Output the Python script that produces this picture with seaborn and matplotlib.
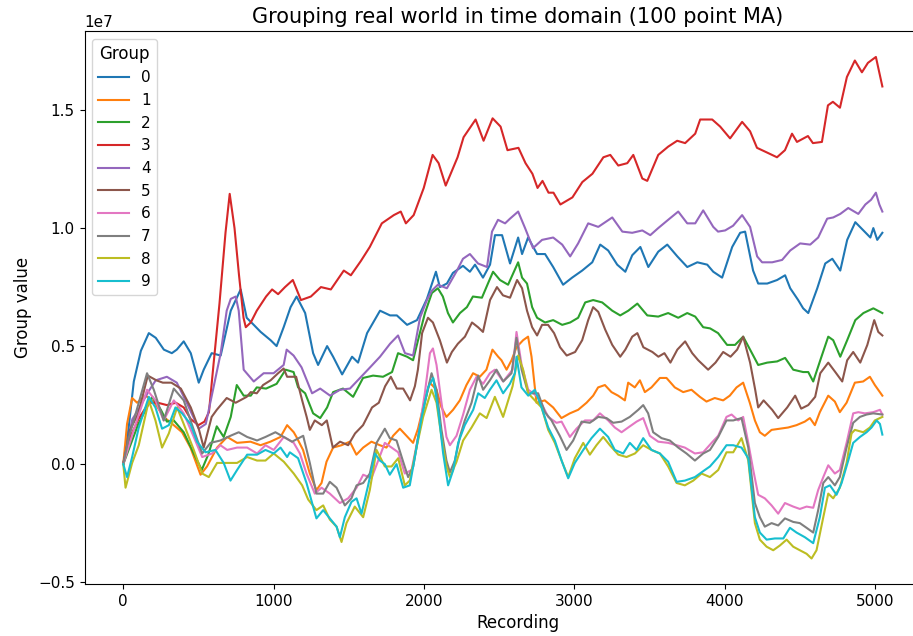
import numpy as np
import pandas as pd
import matplotlib
matplotlib.use("Agg")
import matplotlib.pyplot as plt
import seaborn as sns

SCALE = 1e7  # values below are in units of 1e7

groups = [str(i) for i in range(10)]

x0 = [0, 35, 70, 117, 170, 216, 270, 323, 356, 402, 449, 502, 535, 588, 648, 715, 781, 821, 868, 914, 980, 1020, 1067, 1113, 1153, 1210, 1263, 1296, 1356, 1396, 1456, 1522, 1562, 1622, 1708, 1775, 1820, 1888, 1954, 2020, 2080, 2106, 2153, 2193, 2260, 2306, 2340, 2393, 2440, 2473, 2520, 2573, 2627, 2653, 2693, 2753, 2806, 2860, 2926, 2986, 3053, 3120, 3173, 3226, 3286, 3340, 3386, 3440, 3493, 3559, 3619, 3686, 3752, 3819, 3885, 3925, 3984, 4051, 4104, 4137, 4190, 4224, 4284, 4350, 4403, 4437, 4490, 4523, 4557, 4617, 4670, 4717, 4770, 4816, 4870, 4924, 4970, 4990, 5016, 5050]
y0 = [0, 0.15, 0.35, 0.48, 0.555, 0.535, 0.485, 0.47, 0.485, 0.52, 0.47, 0.345, 0.40, 0.47, 0.46, 0.65, 0.74, 0.62, 0.59, 0.56, 0.525, 0.50, 0.58, 0.665, 0.71, 0.64, 0.47, 0.42, 0.50, 0.455, 0.38, 0.455, 0.43, 0.555, 0.65, 0.63, 0.63, 0.59, 0.61, 0.70, 0.815, 0.75, 0.765, 0.81, 0.84, 0.815, 0.845, 0.79, 0.845, 0.97, 0.97, 0.85, 0.96, 0.89, 0.96, 0.89, 0.89, 0.835, 0.76, 0.79, 0.82, 0.855, 0.93, 0.905, 0.845, 0.815, 0.885, 0.92, 0.835, 0.90, 0.93, 0.88, 0.835, 0.855, 0.845, 0.815, 0.79, 0.92, 0.98, 0.985, 0.82, 0.765, 0.765, 0.78, 0.80, 0.745, 0.695, 0.66, 0.64, 0.745, 0.85, 0.87, 0.82, 0.95, 1.025, 0.99, 0.96, 1.00, 0.95, 0.98]

x1 = [0, 25, 59, 92, 148, 203, 269, 336, 391, 447, 514, 557, 624, 691, 757, 846, 913, 979, 1046, 1090, 1134, 1152, 1196, 1241, 1285, 1319, 1352, 1396, 1452, 1507, 1551, 1596, 1651, 1707, 1751, 1795, 1840, 1884, 1928, 1961, 1995, 2039, 2084, 2117, 2150, 2194, 2239, 2283, 2327, 2372, 2416, 2456, 2494, 2516, 2550, 2583, 2616, 2660, 2693, 2716, 2738, 2749, 2804, 2860, 2915, 2971, 3026, 3082, 3126, 3159, 3204, 3248, 3292, 3337, 3359, 3403, 3437, 3470, 3514, 3570, 3614, 3669, 3725, 3780, 3836, 3880, 3935, 3991, 4035, 4080, 4124, 4168, 4202, 4235, 4268, 4313, 4368, 4423, 4479, 4534, 4568, 4601, 4634, 4690, 4734, 4767, 4812, 4867, 4922, 4967, 5000, 5050]
y1 = [0, 0.17, 0.28, 0.26, 0.29, 0.265, 0.20, 0.165, 0.135, 0.07, -0.045, -0.01, 0.07, 0.115, 0.09, 0.095, 0.08, 0.095, 0.115, 0.165, 0.135, 0.115, 0.06, -0.04, -0.11, -0.08, 0.01, 0.07, 0.08, 0.095, 0.04, 0.07, 0.095, 0.08, 0.07, 0.12, 0.15, 0.12, 0.09, 0.15, 0.24, 0.345, 0.315, 0.24, 0.20, 0.23, 0.27, 0.335, 0.385, 0.37, 0.40, 0.485, 0.455, 0.44, 0.40, 0.44, 0.495, 0.525, 0.54, 0.455, 0.325, 0.26, 0.27, 0.24, 0.195, 0.215, 0.23, 0.26, 0.29, 0.325, 0.335, 0.305, 0.29, 0.27, 0.345, 0.325, 0.355, 0.305, 0.325, 0.365, 0.365, 0.325, 0.305, 0.315, 0.285, 0.265, 0.28, 0.27, 0.29, 0.325, 0.345, 0.26, 0.185, 0.135, 0.12, 0.145, 0.15, 0.155, 0.165, 0.18, 0.195, 0.165, 0.22, 0.29, 0.265, 0.22, 0.26, 0.345, 0.35, 0.37, 0.335, 0.29]

x2 = [0, 100, 193, 250, 290, 336, 402, 469, 522, 568, 622, 668, 715, 755, 801, 848, 888, 950, 1020, 1080, 1133, 1163, 1210, 1263, 1310, 1356, 1396, 1462, 1529, 1595, 1662, 1728, 1788, 1828, 1888, 1928, 1961, 2007, 2053, 2093, 2126, 2160, 2193, 2240, 2286, 2326, 2386, 2426, 2460, 2506, 2560, 2627, 2653, 2686, 2720, 2753, 2806, 2860, 2920, 2973, 3026, 3073, 3126, 3186, 3253, 3306, 3360, 3420, 3486, 3559, 3625, 3692, 3752, 3805, 3858, 3904, 3957, 4017, 4070, 4124, 4170, 4224, 4284, 4350, 4403, 4457, 4523, 4557, 4590, 4637, 4690, 4723, 4770, 4816, 4870, 4924, 4990, 5050]
y2 = [0, 0.17, 0.285, 0.23, 0.18, 0.185, 0.135, 0.045, -0.025, 0.045, 0.16, 0.115, 0.20, 0.335, 0.29, 0.29, 0.325, 0.32, 0.34, 0.40, 0.39, 0.325, 0.30, 0.215, 0.195, 0.24, 0.305, 0.32, 0.285, 0.365, 0.375, 0.37, 0.39, 0.47, 0.455, 0.44, 0.525, 0.64, 0.725, 0.745, 0.71, 0.64, 0.60, 0.64, 0.665, 0.71, 0.705, 0.765, 0.815, 0.78, 0.76, 0.855, 0.79, 0.765, 0.665, 0.62, 0.60, 0.61, 0.59, 0.60, 0.62, 0.685, 0.695, 0.685, 0.65, 0.63, 0.65, 0.68, 0.63, 0.625, 0.64, 0.62, 0.64, 0.625, 0.58, 0.575, 0.555, 0.505, 0.505, 0.54, 0.485, 0.42, 0.43, 0.435, 0.45, 0.40, 0.39, 0.39, 0.35, 0.44, 0.54, 0.525, 0.455, 0.525, 0.61, 0.64, 0.66, 0.64]

x3 = [0, 50, 100, 170, 230, 290, 350, 402, 450, 500, 540, 570, 600, 640, 680, 708, 740, 770, 800, 815, 848, 888, 950, 990, 1030, 1076, 1128, 1182, 1248, 1315, 1381, 1467, 1514, 1580, 1640, 1720, 1800, 1846, 1880, 1932, 1999, 2058, 2098, 2145, 2178, 2224, 2264, 2344, 2397, 2457, 2510, 2556, 2629, 2676, 2722, 2756, 2789, 2829, 2862, 2908, 2988, 3054, 3121, 3194, 3240, 3293, 3353, 3393, 3453, 3486, 3559, 3625, 3685, 3738, 3805, 3838, 3918, 3971, 4037, 4117, 4170, 4216, 4283, 4349, 4402, 4449, 4482, 4555, 4588, 4648, 4688, 4721, 4768, 4814, 4867, 4914, 4954, 5007, 5050]
y3 = [0, 0.12, 0.19, 0.26, 0.26, 0.25, 0.26, 0.24, 0.19, 0.165, 0.18, 0.22, 0.42, 0.68, 0.98, 1.145, 1.00, 0.80, 0.62, 0.58, 0.60, 0.65, 0.71, 0.74, 0.72, 0.75, 0.78, 0.695, 0.71, 0.75, 0.74, 0.82, 0.80, 0.86, 0.92, 1.02, 1.055, 1.07, 1.02, 1.055, 1.17, 1.31, 1.275, 1.18, 1.23, 1.30, 1.385, 1.46, 1.37, 1.465, 1.43, 1.33, 1.34, 1.275, 1.23, 1.17, 1.20, 1.15, 1.15, 1.10, 1.13, 1.195, 1.23, 1.30, 1.31, 1.265, 1.275, 1.31, 1.21, 1.20, 1.31, 1.345, 1.37, 1.36, 1.40, 1.46, 1.46, 1.43, 1.38, 1.45, 1.41, 1.34, 1.32, 1.30, 1.33, 1.40, 1.365, 1.39, 1.36, 1.365, 1.52, 1.535, 1.51, 1.64, 1.71, 1.66, 1.70, 1.725, 1.60]

x4 = [0, 60, 100, 170, 216, 290, 356, 422, 502, 549, 602, 648, 688, 715, 748, 768, 801, 868, 934, 1000, 1067, 1087, 1133, 1186, 1256, 1310, 1376, 1442, 1508, 1575, 1642, 1708, 1775, 1828, 1874, 1928, 1974, 2020, 2053, 2093, 2153, 2220, 2260, 2306, 2360, 2420, 2453, 2493, 2540, 2573, 2627, 2673, 2726, 2786, 2860, 2920, 2973, 3026, 3093, 3160, 3253, 3320, 3386, 3453, 3506, 3559, 3625, 3692, 3752, 3805, 3858, 3925, 3957, 4004, 4057, 4117, 4170, 4217, 4250, 4317, 4383, 4437, 4503, 4570, 4623, 4683, 4723, 4770, 4823, 4890, 4937, 4975, 5007, 5030, 5050]
y4 = [0, 0.19, 0.23, 0.31, 0.355, 0.37, 0.345, 0.26, 0.15, 0.17, 0.33, 0.47, 0.65, 0.70, 0.71, 0.65, 0.40, 0.35, 0.385, 0.385, 0.42, 0.485, 0.46, 0.41, 0.30, 0.32, 0.29, 0.315, 0.32, 0.365, 0.41, 0.455, 0.51, 0.545, 0.47, 0.46, 0.62, 0.695, 0.735, 0.76, 0.745, 0.82, 0.87, 0.89, 0.85, 0.835, 0.985, 1.035, 1.02, 1.04, 1.07, 1.00, 0.915, 0.95, 0.96, 0.93, 0.88, 0.935, 1.02, 1.005, 1.045, 0.985, 0.98, 0.99, 0.97, 1.00, 1.035, 1.07, 1.02, 1.02, 1.075, 1.005, 0.985, 0.99, 1.01, 1.055, 1.005, 0.88, 0.855, 0.855, 0.865, 0.905, 0.935, 0.93, 0.96, 1.04, 1.045, 1.06, 1.085, 1.06, 1.10, 1.12, 1.15, 1.10, 1.07]

x5 = [0, 45, 100, 163, 220, 263, 320, 383, 449, 502, 535, 588, 622, 688, 748, 821, 848, 888, 930, 980, 1030, 1067, 1090, 1150, 1190, 1220, 1241, 1274, 1321, 1354, 1394, 1442, 1496, 1542, 1595, 1655, 1700, 1742, 1780, 1820, 1862, 1908, 1940, 1960, 1988, 2027, 2060, 2106, 2153, 2186, 2226, 2273, 2320, 2360, 2393, 2440, 2486, 2526, 2573, 2620, 2653, 2686, 2720, 2753, 2786, 2826, 2866, 2906, 2950, 3006, 3053, 3093, 3126, 3160, 3206, 3253, 3306, 3340, 3386, 3420, 3460, 3520, 3560, 3600, 3640, 3686, 3738, 3785, 3825, 3891, 3940, 3991, 4040, 4084, 4124, 4170, 4204, 4224, 4260, 4317, 4357, 4417, 4470, 4510, 4557, 4603, 4637, 4690, 4737, 4783, 4816, 4856, 4903, 4950, 4996, 5023, 5050]
y5 = [0, 0.145, 0.215, 0.375, 0.355, 0.345, 0.345, 0.32, 0.24, 0.15, 0.07, 0.20, 0.23, 0.28, 0.26, 0.285, 0.305, 0.30, 0.335, 0.355, 0.385, 0.405, 0.37, 0.37, 0.27, 0.20, 0.145, 0.185, 0.165, 0.185, 0.07, 0.095, 0.08, 0.13, 0.165, 0.24, 0.26, 0.33, 0.37, 0.32, 0.32, 0.27, 0.33, 0.40, 0.555, 0.62, 0.60, 0.525, 0.43, 0.475, 0.51, 0.54, 0.60, 0.58, 0.56, 0.695, 0.75, 0.715, 0.705, 0.78, 0.745, 0.65, 0.58, 0.545, 0.59, 0.59, 0.555, 0.495, 0.46, 0.475, 0.525, 0.61, 0.665, 0.645, 0.57, 0.505, 0.455, 0.485, 0.54, 0.555, 0.495, 0.475, 0.455, 0.47, 0.43, 0.485, 0.52, 0.47, 0.44, 0.40, 0.43, 0.475, 0.455, 0.485, 0.54, 0.43, 0.315, 0.24, 0.27, 0.23, 0.195, 0.24, 0.29, 0.235, 0.25, 0.285, 0.385, 0.43, 0.39, 0.35, 0.44, 0.475, 0.43, 0.505, 0.61, 0.56, 0.545]

x6 = [0, 70, 158, 214, 269, 336, 402, 469, 525, 591, 646, 691, 757, 824, 890, 946, 1001, 1068, 1134, 1175, 1219, 1274, 1319, 1374, 1441, 1496, 1552, 1596, 1651, 1696, 1740, 1785, 1829, 1873, 1918, 1962, 2006, 2040, 2060, 2084, 2117, 2150, 2173, 2217, 2261, 2306, 2350, 2394, 2439, 2472, 2527, 2590, 2616, 2650, 2694, 2760, 2827, 2882, 2916, 2971, 3015, 3071, 3126, 3171, 3226, 3270, 3315, 3359, 3415, 3459, 3503, 3559, 3625, 3681, 3736, 3803, 3858, 3914, 3958, 4013, 4047, 4091, 4124, 4158, 4191, 4224, 4268, 4313, 4357, 4402, 4457, 4501, 4546, 4590, 4623, 4657, 4690, 4734, 4767, 4812, 4856, 4890, 4934, 4989, 5034, 5050]
y6 = [0, 0.145, 0.315, 0.27, 0.185, 0.27, 0.215, 0.115, 0.03, 0.045, 0.08, 0.06, 0.07, 0.07, 0.045, 0.08, 0.06, 0.115, 0.09, 0.045, -0.04, -0.125, -0.10, -0.125, -0.165, -0.145, -0.10, -0.045, -0.06, 0.015, 0.09, 0.07, 0.05, -0.04, -0.025, 0.115, 0.30, 0.47, 0.49, 0.42, 0.26, 0.115, 0.08, 0.12, 0.21, 0.315, 0.37, 0.34, 0.385, 0.40, 0.35, 0.40, 0.56, 0.42, 0.315, 0.285, 0.20, 0.175, 0.18, 0.115, 0.15, 0.185, 0.185, 0.215, 0.185, 0.155, 0.135, 0.155, 0.18, 0.195, 0.12, 0.095, 0.09, 0.08, 0.07, 0.045, 0.05, 0.09, 0.12, 0.20, 0.21, 0.185, 0.20, 0.09, -0.025, -0.13, -0.145, -0.175, -0.21, -0.165, -0.18, -0.19, -0.18, -0.185, -0.11, -0.055, -0.005, -0.04, -0.025, 0.09, 0.215, 0.22, 0.215, 0.22, 0.23, 0.21]

x7 = [0, 36, 103, 158, 203, 269, 336, 402, 469, 525, 580, 646, 713, 768, 824, 890, 946, 1012, 1068, 1123, 1197, 1241, 1285, 1330, 1374, 1419, 1474, 1518, 1552, 1596, 1640, 1685, 1740, 1773, 1818, 1862, 1895, 1929, 1962, 2006, 2051, 2084, 2117, 2150, 2173, 2206, 2239, 2272, 2317, 2361, 2394, 2439, 2483, 2528, 2583, 2616, 2650, 2694, 2760, 2805, 2849, 2904, 2949, 2993, 3049, 3104, 3160, 3215, 3259, 3315, 3370, 3426, 3459, 3492, 3525, 3581, 3636, 3692, 3747, 3803, 3858, 3903, 3958, 4013, 4058, 4113, 4158, 4202, 4235, 4268, 4313, 4357, 4402, 4457, 4501, 4546, 4590, 4623, 4657, 4690, 4734, 4767, 4812, 4856, 4901, 4945, 4989, 5050]
y7 = [0, 0.11, 0.26, 0.385, 0.315, 0.185, 0.32, 0.27, 0.145, 0.045, 0.09, 0.10, 0.12, 0.135, 0.115, 0.10, 0.115, 0.135, 0.115, 0.095, 0.12, 0.005, -0.125, -0.125, -0.075, -0.10, -0.175, -0.145, -0.09, -0.08, -0.04, 0.09, 0.15, 0.11, 0.10, 0.01, -0.055, -0.01, 0.115, 0.26, 0.385, 0.315, 0.145, 0.015, -0.035, 0.015, 0.115, 0.185, 0.26, 0.375, 0.315, 0.355, 0.40, 0.35, 0.385, 0.535, 0.40, 0.30, 0.30, 0.22, 0.185, 0.12, 0.06, 0.10, 0.18, 0.175, 0.20, 0.195, 0.175, 0.18, 0.20, 0.23, 0.25, 0.215, 0.135, 0.11, 0.10, 0.07, 0.045, 0.015, 0.045, 0.06, 0.115, 0.185, 0.185, 0.195, 0.07, -0.165, -0.225, -0.265, -0.25, -0.26, -0.23, -0.245, -0.25, -0.27, -0.29, -0.195, -0.08, -0.055, -0.09, -0.055, 0.07, 0.175, 0.20, 0.21, 0.215, 0.21]

x8 = [0, 15, 59, 103, 170, 214, 258, 303, 358, 402, 469, 525, 569, 624, 691, 757, 824, 890, 946, 1001, 1068, 1134, 1190, 1230, 1285, 1330, 1374, 1419, 1452, 1485, 1540, 1596, 1640, 1685, 1740, 1785, 1829, 1873, 1906, 1951, 1995, 2051, 2084, 2117, 2150, 2173, 2217, 2261, 2317, 2372, 2417, 2472, 2527, 2590, 2627, 2660, 2694, 2738, 2783, 2827, 2871, 2916, 2960, 3004, 3060, 3104, 3148, 3193, 3237, 3293, 3348, 3404, 3459, 3514, 3570, 3625, 3681, 3736, 3792, 3847, 3903, 3958, 4013, 4058, 4113, 4158, 4202, 4235, 4280, 4324, 4368, 4413, 4457, 4501, 4546, 4579, 4612, 4657, 4690, 4723, 4767, 4812, 4845, 4867, 4923, 4967, 5000, 5050]
y8 = [0, -0.10, 0.005, 0.08, 0.27, 0.185, 0.07, 0.13, 0.24, 0.17, 0.06, -0.04, -0.055, 0.005, 0.005, 0.005, 0.03, 0.015, 0.015, 0.045, 0.01, -0.04, -0.09, -0.15, -0.195, -0.175, -0.235, -0.265, -0.33, -0.25, -0.18, -0.225, -0.11, 0.06, -0.01, -0.01, 0.025, -0.09, -0.07, 0.07, 0.20, 0.315, 0.26, 0.115, -0.01, -0.055, 0.01, 0.10, 0.155, 0.215, 0.195, 0.285, 0.20, 0.33, 0.46, 0.40, 0.30, 0.27, 0.24, 0.145, 0.09, 0.015, -0.055, 0.025, 0.09, 0.04, 0.08, 0.115, 0.08, 0.04, 0.03, 0.045, 0.08, 0.06, 0.045, -0.01, -0.08, -0.09, -0.07, -0.04, -0.055, -0.025, 0.05, 0.05, 0.11, 0.015, -0.25, -0.32, -0.35, -0.365, -0.345, -0.32, -0.35, -0.365, -0.38, -0.40, -0.365, -0.225, -0.125, -0.145, -0.10, 0.005, 0.13, 0.145, 0.135, 0.155, 0.185, 0.20]

x9 = [0, 25, 59, 103, 170, 214, 258, 303, 347, 391, 447, 491, 547, 613, 668, 713, 757, 824, 890, 946, 1001, 1046, 1090, 1108, 1163, 1219, 1285, 1330, 1374, 1419, 1441, 1474, 1518, 1552, 1585, 1629, 1674, 1707, 1740, 1773, 1818, 1862, 1906, 1940, 1984, 2028, 2062, 2095, 2128, 2161, 2195, 2228, 2272, 2328, 2361, 2405, 2439, 2483, 2527, 2572, 2605, 2616, 2649, 2694, 2738, 2783, 2827, 2871, 2916, 2960, 3004, 3060, 3115, 3171, 3226, 3270, 3326, 3370, 3415, 3459, 3514, 3570, 3625, 3681, 3736, 3803, 3869, 3903, 3958, 4013, 4058, 4113, 4158, 4202, 4235, 4280, 4335, 4391, 4435, 4479, 4535, 4590, 4634, 4668, 4701, 4745, 4779, 4823, 4856, 4901, 4945, 4978, 5012, 5034, 5050]
y9 = [0, -0.055, 0.03, 0.155, 0.285, 0.24, 0.15, 0.165, 0.24, 0.215, 0.17, 0.095, 0.05, 0.06, 0.005, -0.07, -0.025, 0.04, 0.04, 0.06, 0.045, 0.07, 0.03, 0.05, 0.025, -0.08, -0.23, -0.195, -0.23, -0.265, -0.31, -0.225, -0.16, -0.145, -0.21, -0.09, 0.045, 0.015, 0.0, -0.045, 0.0, -0.10, -0.09, 0.03, 0.195, 0.325, 0.365, 0.23, 0.045, -0.09, -0.025, 0.09, 0.165, 0.23, 0.30, 0.28, 0.315, 0.355, 0.30, 0.34, 0.385, 0.455, 0.325, 0.29, 0.315, 0.24, 0.155, 0.10, 0.015, -0.06, 0.005, 0.06, 0.11, 0.15, 0.115, 0.06, 0.045, 0.09, 0.06, 0.11, 0.06, 0.045, 0.01, -0.075, -0.07, -0.055, -0.025, -0.01, 0.03, 0.08, 0.08, 0.07, 0.025, -0.225, -0.29, -0.32, -0.315, -0.315, -0.27, -0.29, -0.31, -0.335, -0.225, -0.10, -0.09, -0.13, -0.08, 0.015, 0.09, 0.115, 0.135, 0.155, 0.185, 0.17, 0.125]

series_x = [x0, x1, x2, x3, x4, x5, x6, x7, x8, x9]
series_y = [y0, y1, y2, y3, y4, y5, y6, y7, y8, y9]

frames = []
for g, xs, ys in zip(groups, series_x, series_y):
    frames.append(pd.DataFrame({
        "Recording": np.asarray(xs, dtype=float),
        "Group value": np.asarray(ys, dtype=float) * SCALE,
        "Group": g,
    }))
df = pd.concat(frames, ignore_index=True)

sns.set_context("notebook", rc={
    "xtick.major.size": 3.5, "ytick.major.size": 3.5,
    "xtick.major.width": 0.8, "ytick.major.width": 0.8,
    "axes.linewidth": 0.8,
})
plt.rcParams["font.family"] = ["DejaVu Sans"]

fig = plt.figure(figsize=(9.13, 6.36), dpi=100)
# axes box runs past the right edge of the canvas
ax = fig.add_axes([84.5 / 913, 52 / 636, 867 / 913, 553 / 636])

sns.lineplot(data=df, x="Recording", y="Group value", hue="Group",
             hue_order=groups, palette="tab10", estimator=None, sort=False,
             linewidth=1.5, ax=ax)

ax.set_xlim(-258, 5510)
ax.set_ylim(-0.508 * SCALE, 1.835 * SCALE)
ax.set_title("Grouping real world in time domain (100 point MA)", fontsize=15)
ax.legend(title="Group", loc="upper left")

fig.savefig("out.png", dpi=100)
